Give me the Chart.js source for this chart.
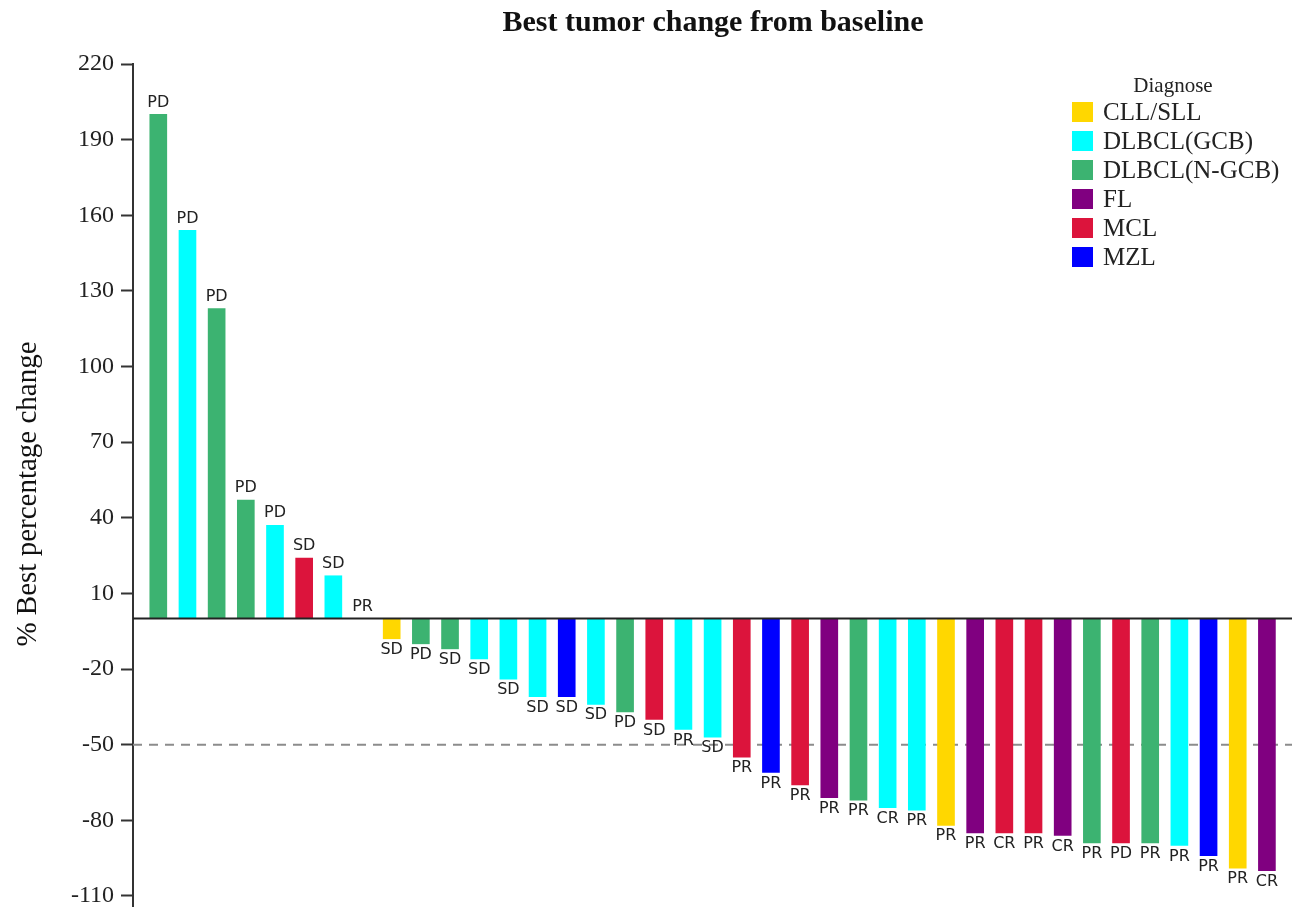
<!DOCTYPE html>
<html>
<head>
<meta charset="utf-8">
<title>Best tumor change from baseline</title>
<script src="https://cdn.jsdelivr.net/npm/chart.js@4.4.1/dist/chart.umd.min.js"></script>
<style>
  html, body { margin: 0; padding: 0; background: #fff; }
  canvas { display: block; }
</style>
</head>
<body>
<canvas id="waterfall" width="1294" height="909"></canvas>
<script>
// one bar per patient, sorted by best change
const bestChange = [200, 154, 123, 47, 37, 24, 17, 0,
  -8, -10, -12, -16, -24, -31, -31, -34, -37, -40, -44, -47,
  -55, -61, -66, -71, -72, -75, -76, -82, -85, -85, -85, -86, -89, -89, -89, -90, -94, -99, -100];

const diagnosis = ['DLBCL(N-GCB)', 'DLBCL(GCB)', 'DLBCL(N-GCB)', 'DLBCL(N-GCB)', 'DLBCL(GCB)', 'MCL', 'DLBCL(GCB)', 'DLBCL(GCB)',
  'CLL/SLL', 'DLBCL(N-GCB)', 'DLBCL(N-GCB)', 'DLBCL(GCB)', 'DLBCL(GCB)', 'DLBCL(GCB)', 'MZL', 'DLBCL(GCB)', 'DLBCL(N-GCB)', 'MCL', 'DLBCL(GCB)', 'DLBCL(GCB)',
  'MCL', 'MZL', 'MCL', 'FL', 'DLBCL(N-GCB)', 'DLBCL(GCB)', 'DLBCL(GCB)', 'CLL/SLL', 'FL', 'MCL', 'MCL', 'FL', 'DLBCL(N-GCB)', 'MCL', 'DLBCL(N-GCB)', 'DLBCL(GCB)', 'MZL', 'CLL/SLL', 'FL'];

const response = ['PD', 'PD', 'PD', 'PD', 'PD', 'SD', 'SD', 'PR',
  'SD', 'PD', 'SD', 'SD', 'SD', 'SD', 'SD', 'SD', 'PD', 'SD', 'PR', 'SD',
  'PR', 'PR', 'PR', 'PR', 'PR', 'CR', 'PR', 'PR', 'PR', 'CR', 'PR', 'CR', 'PR', 'PD', 'PR', 'PR', 'PR', 'PR', 'CR'];

const diagnoseNames = ['CLL/SLL', 'DLBCL(GCB)', 'DLBCL(N-GCB)', 'FL', 'MCL', 'MZL'];
const diagnoseColors = ['#FFD700', '#00FFFF', '#3CB371', '#800080', '#DC143C', '#0000FF'];

const yTicks = [-110, -80, -50, -20, 10, 40, 70, 100, 130, 160, 190, 220];

const patients = bestChange.map((v, i) => i + 1);
const colorOf = name => diagnoseColors[diagnoseNames.indexOf(name)];

// zero line, -50% threshold, y title, chart title and legend
const decorations = {
  id: 'decorations',
  beforeDatasetsDraw(chart) {
    const { ctx, chartArea, scales: { y } } = chart;
    const y50 = y.getPixelForValue(-50);
    ctx.save();
    ctx.strokeStyle = '#8c8c8c';
    ctx.lineWidth = 2;
    ctx.setLineDash([9, 7]);
    ctx.beginPath();
    ctx.moveTo(chartArea.left, y50);
    ctx.lineTo(chartArea.right, y50);
    ctx.stroke();
    ctx.restore();
  },
  afterDatasetsDraw(chart) {
    const { ctx, chartArea, scales: { y } } = chart;
    const y0 = y.getPixelForValue(0);
    ctx.save();
    ctx.strokeStyle = '#222';
    ctx.lineWidth = 2;
    ctx.beginPath();
    ctx.moveTo(chartArea.left, y0);
    ctx.lineTo(chartArea.right, y0);
    ctx.stroke();

    // response labels on the bars
    const meta = chart.getDatasetMeta(0);
    ctx.font = '16px "DejaVu Sans"';
    ctx.fillStyle = '#222';
    ctx.textAlign = 'center';
    meta.data.forEach((bar, i) => {
      if (bestChange[i] >= 0) {
        ctx.textBaseline = 'bottom';
        ctx.fillText(response[i], bar.x, bar.y - 4);
      } else {
        ctx.textBaseline = 'top';
        ctx.fillText(response[i], bar.x, bar.y + 3);
      }
    });

    // title
    ctx.font = 'bold 30px "Liberation Serif"';
    ctx.fillStyle = '#111';
    ctx.textBaseline = 'middle';
    ctx.fillText('Best tumor change from baseline', 713, 23);

    // y axis title
    ctx.translate(28, 494);
    ctx.rotate(-Math.PI / 2);
    ctx.font = '29px "Liberation Serif"';
    ctx.fillText('% Best percentage change', 0, 0);
    ctx.restore();

    // legend
    ctx.save();
    ctx.font = '21px "Liberation Serif"';
    ctx.fillStyle = '#222';
    ctx.textAlign = 'center';
    ctx.textBaseline = 'middle';
    ctx.fillText('Diagnose', 1173, 86);
    ctx.font = '25px "Liberation Serif"';
    ctx.textAlign = 'left';
    diagnoseNames.forEach((name, i) => {
      const cy = 112 + i * 29;
      ctx.fillStyle = diagnoseColors[i];
      ctx.fillRect(1072, cy - 10, 21, 20);
      ctx.fillStyle = '#222';
      ctx.fillText(name, 1103, cy + 1);
    });
    ctx.restore();
  }
};

new Chart(document.getElementById('waterfall'), {
  type: 'bar',
  data: {
    datasets: [{
      label: '% Best percentage change',
      data: patients.map((p, i) => ({ x: p, y: bestChange[i] })),
      backgroundColor: diagnosis.map(colorOf),
      barThickness: 17
    }]
  },
  options: {
    responsive: false,
    animation: false,
    events: [],
    layout: { padding: { top: 64, left: 0, right: 2, bottom: 3 } },
    plugins: {
      legend: { display: false },
      title: { display: false },
      tooltip: { enabled: false }
    },
    scales: {
      x: {
        type: 'linear',
        display: false,
        offset: false,
        grid: { offset: false },
        min: 0.133,
        max: 39.86
      },
      y: {
        min: -114,
        max: 220,
        afterBuildTicks: axis => { axis.ticks = yTicks.map(v => ({ value: v })); },
        afterFit: axis => {
          axis.width = 133;
          axis.paddingTop = 0;
          axis.paddingBottom = 0;
        },
        border: { display: true, color: '#333', width: 2 },
        grid: { drawOnChartArea: false, tickLength: 12, tickWidth: 2, tickColor: '#333' },
        ticks: {
          padding: 7,
          color: '#222',
          font: { family: 'Liberation Serif', size: 24 }
        }
      }
    }
  },
  plugins: [decorations]
});
</script>
</body>
</html>
